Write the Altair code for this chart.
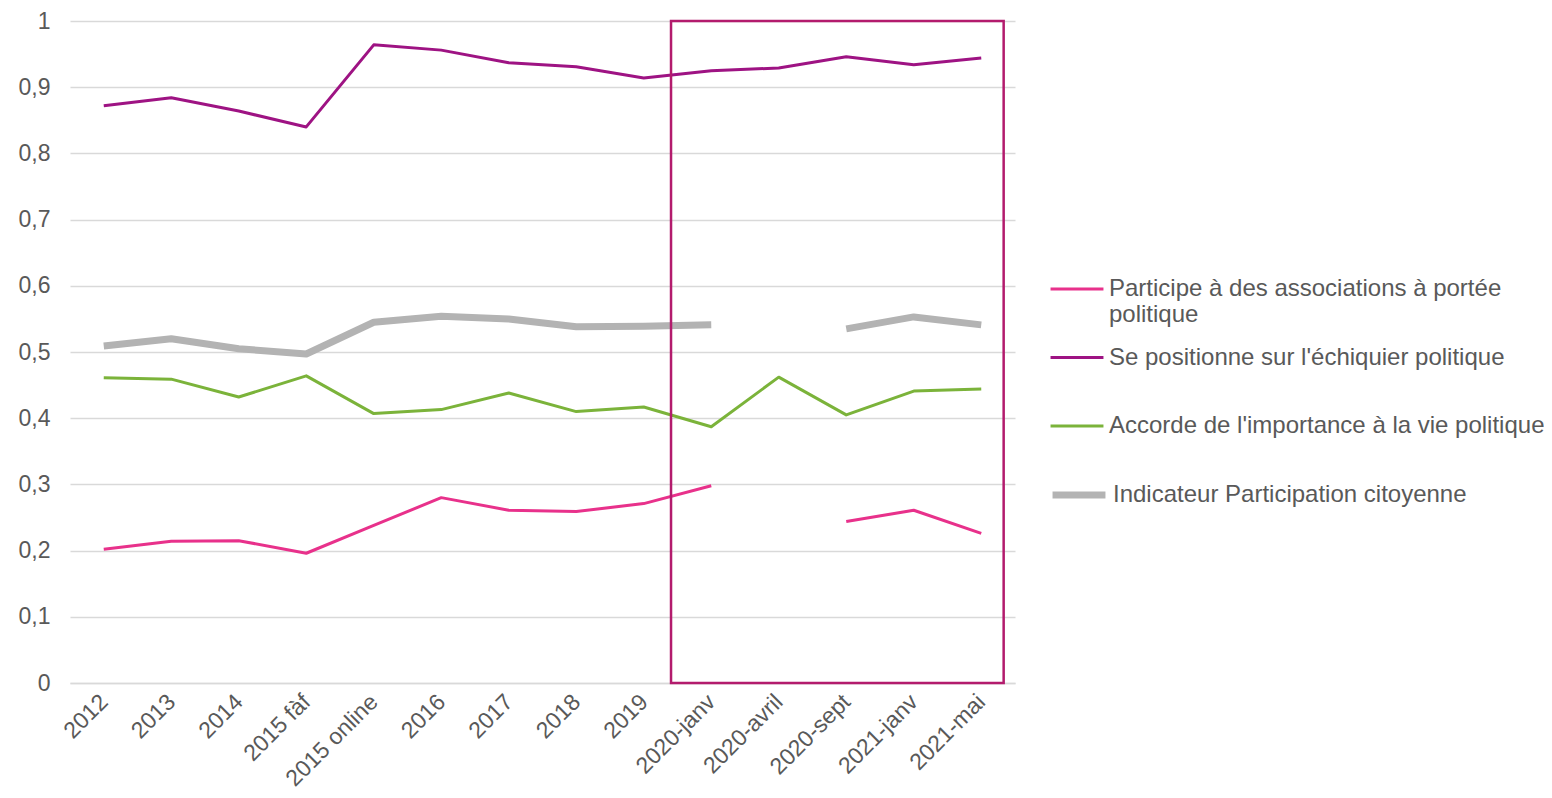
import altair as alt
import pandas as pd

categories = ["2012", "2013", "2014", "2015 fàf", "2015 online", "2016", "2017",
              "2018", "2019", "2020-janv", "2020-avril", "2020-sept", "2021-janv", "2021-mai"]

series_names = [
    "Participe à des associations à portée politique",
    "Se positionne sur l'échiquier politique",
    "Accorde de l'importance à la vie politique",
    "Indicateur Participation citoyenne",
]

participe = [0.202, 0.214, 0.215, 0.196, 0.238, 0.280, 0.261, 0.259, 0.271, 0.298, None, 0.244, 0.261, 0.226]
positionne = [0.872, 0.884, 0.864, 0.840, 0.964, 0.956, 0.937, 0.931, 0.914, 0.925, 0.929, 0.946, 0.934, 0.944]
accorde = [0.461, 0.459, 0.432, 0.464, 0.407, 0.413, 0.438, 0.410, 0.417, 0.387, 0.462, 0.405, 0.441, 0.444]
indicateur = [0.509, 0.520, 0.505, 0.497, 0.545, 0.554, 0.550, 0.538, 0.539, 0.541, None, 0.535, 0.553, 0.541]

colors = ["#e8318b", "#9e1383", "#7bb33a", "#b3b3b3"]

rows = []
for name, vals in zip(series_names, [participe, positionne, accorde, indicateur]):
    seg = 0
    for cat, v in zip(categories, vals):
        if v is None:
            seg += 1
            continue
        rows.append({"cat": cat, "value": v, "series": name, "seg": f"{name}-{seg}"})
df = pd.DataFrame(rows)

W, H = 945, 662
FONT = "Liberation Sans"
TXT = "#595959"
thin_names = series_names[:3]
thick_name = series_names[3]

common_legend = dict(
    title=None, orient="none", symbolType="stroke", symbolSize=2800,
    gridAlign="all", rowPadding=2.5, labelLimit=600, labelFontSize=24,
    labelFont=FONT, labelColor=TXT, labelBaseline="middle", labelOffset=4,
)

x_enc = alt.X("cat:N", sort=categories, title=None,
              scale=alt.Scale(type="point", padding=0.5, domain=categories),
              axis=alt.Axis(labelAngle=-45, labelAlign="right", labelBaseline="middle",
                            labelPadding=15, ticks=False, domainColor="#d9d9d9", domainWidth=1.5,
                            labelFontSize=23, labelFont=FONT, labelColor=TXT, grid=False))
y_enc = alt.Y("value:Q", title=None, scale=alt.Scale(domain=[0, 1], nice=False),
              axis=alt.Axis(values=[0, 0.1, 0.2, 0.3, 0.4, 0.5, 0.6, 0.7, 0.8, 0.9, 1.0],
                            labelExpr="replace(format(datum.value, '.1~f'), '.', ',')",
                            ticks=False, domain=False, labelPadding=20, gridColor="#d9d9d9",
                            gridWidth=1.5, labelFontSize=23, labelFont=FONT, labelColor=TXT))

base = alt.Chart(df)

thick = base.transform_filter(alt.datum.series == thick_name).mark_line(
    strokeWidth=7, strokeJoin="round"
).encode(
    x=x_enc, y=y_enc,
    stroke=alt.Stroke("series:N", scale=alt.Scale(domain=[thick_name], range=colors[3:]),
                      legend=alt.Legend(legendX=979, legendY=444, symbolStrokeWidth=7,
                                        **common_legend)),
    detail="seg:N",
)

thin = base.transform_filter(alt.datum.series != thick_name).mark_line(
    strokeWidth=3, strokeJoin="round"
).encode(
    x=x_enc, y=y_enc,
    color=alt.Color("series:N", sort=thin_names,
                    scale=alt.Scale(domain=thin_names, range=colors[:3]),
                    legend=alt.Legend(
                        legendX=979, legendY=240, symbolStrokeWidth=3,
                        labelExpr="datum.label == 'Participe à des associations à portée politique' ? ['Participe à des associations à portée', 'politique'] : datum.label",
                        **common_legend)),
    detail="seg:N",
)

box = alt.Chart(pd.DataFrame({"a": [0]})).mark_rect(
    fillOpacity=0, stroke="#b31b6d", strokeWidth=2.5
).encode(
    x=alt.value(W * 0.636), x2=alt.value(W * 0.988),
    y=alt.datum(1), y2=alt.datum(0),
)

chart = alt.layer(thick, thin, box).properties(
    width=W, height=H,
    autosize=alt.AutoSizeParams(type="none"),
    padding={"left": 62, "top": 13, "right": 529, "bottom": 107},
).configure_view(stroke=None)

chart.save("out.html", embed_options={"renderer": "svg", "actions": False})
